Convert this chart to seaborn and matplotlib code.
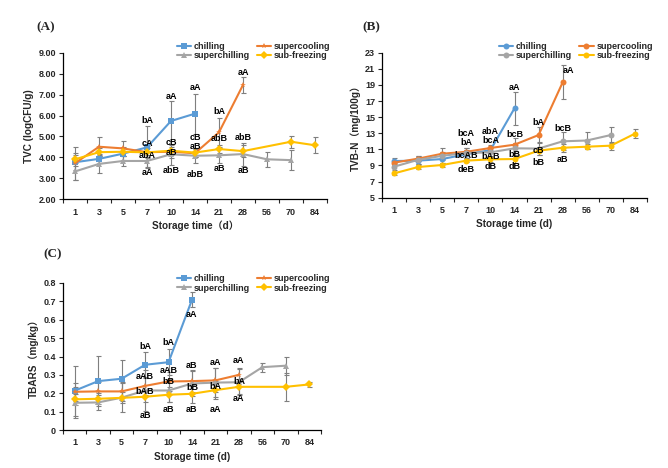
import numpy as np
import pandas as pd
import matplotlib
matplotlib.use("Agg")
import matplotlib.pyplot as plt
import seaborn as sns
from matplotlib.ticker import FixedLocator, FuncFormatter

sns.set_style("white")
plt.rcParams["font.family"] = ["Liberation Sans", "Noto Sans CJK SC"]
plt.rcParams["font.weight"] = "bold"
plt.rcParams["axes.labelweight"] = "bold"

nan = np.nan

DAYS = ["1", "3", "5", "7", "10", "14", "21", "28", "56", "70", "84"]
SERIES = ["chilling", "supercooling", "superchilling", "sub-freezing"]
COLORS = {"chilling": "#5B9BD5", "supercooling": "#ED7D31",
          "superchilling": "#A5A5A5", "sub-freezing": "#FFC000"}

# (A) TVC, logCFU/g
tvc_chilling = [3.77, 3.93, 4.18, 4.48, 5.74, 6.09]
tvc_chilling_err = [0.35, 0.2, 0.3, 1.0, 0.95, 0.95]
tvc_supercooling = [3.72, 4.51, 4.43, 4.25, 4.27, 4.2, 5.2, 7.46]
tvc_supercooling_err = [0.8, 0.45, 0.35, 0.3, 0.3, 0.2, 0.7, 0.38]
tvc_superchilling = [3.33, 3.69, 3.83, 3.83, 4.15, 4.08, 4.1, 4.16, 3.91, 3.87]
tvc_superchilling_err = [0.4, 0.45, 0.25, 0.3, 0.5, 0.35, 0.35, 0.55, 0.35, 0.48]
tvc_subfreezing = [3.91, 4.25, 4.27, 4.24, 4.32, 4.23, 4.4, 4.3, nan, 4.75, 4.58]
tvc_subfreezing_err = [0.3, 0.2, 0.2, 0.2, 0.2, 0.2, 0.2, 0.3, nan, 0.28, 0.38]
tvc_letters = [
    (3, 5.75, "bA"), (3, 4.67, "cA"), (3, 4.07, "abA"), (3, 3.27, "aA"),
    (4, 6.9, "aA"), (4, 4.7, "cB"), (4, 4.23, "aB"), (4, 3.37, "abB"),
    (5, 7.35, "aA"), (5, 4.96, "cB"), (5, 4.5, "aB"), (5, 3.2, "abB"),
    (6, 6.18, "bA"), (6, 4.9, "abB"), (6, 3.48, "aB"),
    (7, 8.05, "aA"), (7, 4.96, "abB"), (7, 3.37, "aB"),
]

# (B) TVB-N, mg/100g
tvbn_chilling = [9.55, 9.6, 9.8, 10.4, 10.9, 16.1]
tvbn_chilling_err = [0.35, 0.4, 0.5, 0.5, 0.4, 2.05]
tvbn_supercooling = [9.35, 9.85, 10.46, 10.7, 11.17, 11.58, 12.78, 19.32]
tvbn_supercooling_err = [0.3, 0.3, 0.7, 0.5, 0.4, 0.8, 1.0, 2.1]
tvbn_superchilling = [8.85, 9.7, 10.2, 10.55, 10.63, 11.13, 11.1, 12.0, 12.1, 12.78]
tvbn_superchilling_err = [0.4, 0.5, 0.5, 0.6, 0.5, 0.6, 0.8, 1.1, 1.0, 0.95]
tvbn_subfreezing = [8.02, 8.81, 9.06, 9.6, 9.76, 9.8, 10.84, 11.2, 11.33, 11.46, 12.95]
tvbn_subfreezing_err = [0.15, 0.2, 0.2, 0.2, 0.3, 0.5, 0.5, 0.5, 0.3, 0.5, 0.55]
tvbn_letters = [
    (3, 13.0, "bcA"), (3, 11.9, "bA"), (3, 10.26, "bcAB"), (3, 8.44, "deB"),
    (4, 13.2, "abA"), (4, 12.1, "bcA"), (4, 10.1, "bAB"), (4, 8.85, "dB"),
    (5, 18.7, "aA"), (5, 12.8, "bcB"), (5, 10.4, "bB"), (5, 8.85, "dB"),
    (6, 14.3, "bA"), (6, 10.9, "cB"), (6, 9.35, "bB"),
    (7.25, 20.75, "aA"), (7, 13.6, "bcB"), (7, 9.7, "aB"),
]

# (C) TBARS, mg/kg
tbars_chilling = [0.214, 0.266, 0.279, 0.355, 0.369, 0.709]
tbars_chilling_err = [0.137, 0.135, 0.1, 0.07, 0.07, 0.04]
tbars_supercooling = [0.208, 0.21, 0.21, 0.24, 0.264, 0.266, 0.27, 0.3]
tbars_supercooling_err = [0.05, 0.05, 0.05, 0.05, 0.05, 0.06, 0.065, 0.04]
tbars_superchilling = [0.148, 0.15, 0.176, 0.215, 0.215, 0.253, 0.258, 0.26, 0.342, 0.35]
tbars_superchilling_err = [0.085, 0.04, 0.08, 0.11, 0.06, 0.07, 0.08, 0.07, 0.025, 0.05]
tbars_subfreezing = [0.167, 0.17, 0.175, 0.181, 0.192, 0.197, 0.217, 0.235, nan, 0.235, 0.248]
tbars_subfreezing_err = [0.03, 0.03, 0.03, 0.03, 0.04, 0.05, 0.05, 0.04, nan, 0.075, 0.015]
tbars_letters = [
    (3, 0.453, "bA"), (3, 0.29, "aAB"), (3, 0.208, "bAB"), (3, 0.08, "aB"),
    (4, 0.474, "bA"), (4, 0.326, "aAB"), (4, 0.263, "bB"), (4, 0.112, "aB"),
    (5, 0.63, "aA"), (5, 0.35, "aB"), (5, 0.232, "bB"), (5, 0.112, "aB"),
    (6, 0.366, "aA"), (6, 0.235, "bA"), (6, 0.114, "aA"),
    (7, 0.376, "aA"), (7, 0.263, "bA"), (7, 0.172, "aA"),
]

FS = 6.5


def build_frame(values, errors):
    rows = []
    for name, vals, errs in zip(SERIES, values, errors):
        for i, (v, e) in enumerate(zip(vals, errs)):
            if not np.isnan(v):
                rows.append({"pos": i, "value": v, "err": e, "series": name})
    return pd.DataFrame(rows)


def draw_panel(fig, rect, values, errors, letters, markers, yticks, yfmt,
               ylabel, xlabel, tag, tag_xy, legend_xy):
    ax = fig.add_axes(rect)
    df = build_frame(values, errors)

    for name in SERIES:
        sub = df[df["series"] == name]
        ax.errorbar(sub["pos"], sub["value"], yerr=sub["err"], fmt="none",
                    ecolor="#7F7F7F", elinewidth=0.8, capsize=1.8,
                    capthick=0.8, zorder=1)

    sns.lineplot(data=df, x="pos", y="value", hue="series", style="series",
                 hue_order=SERIES, style_order=SERIES, palette=COLORS,
                 markers=markers, dashes=False, markersize=4.3,
                 markeredgewidth=0, linewidth=1.5, ax=ax, zorder=2)

    for x, y, t in letters:
        ax.text(x, y, t, ha="center", va="center", fontsize=FS,
                fontweight="bold", color="black", zorder=3)

    handles, labels = ax.get_legend_handles_labels()
    lookup = dict(zip(labels, handles))
    order = ["chilling", "superchilling", "supercooling", "sub-freezing"]
    ax.legend([lookup[k] for k in order], order, ncol=2, frameon=False,
              loc="upper left", bbox_to_anchor=legend_xy,
              handlelength=1.6, handletextpad=0.3, columnspacing=0.8,
              labelspacing=0.05, borderpad=0, borderaxespad=0,
              prop={"weight": "bold", "size": FS})

    ax.set_xlim(-0.5, 10.5)
    ax.set_ylim(yticks[0], yticks[-1])
    ax.set_xticks(range(len(DAYS)))
    ax.set_xticklabels(DAYS)
    ax.xaxis.set_minor_locator(FixedLocator(np.arange(-0.5, 11, 1)))
    ax.tick_params(axis="x", which="major", length=0, labelsize=FS, pad=6)
    ax.tick_params(axis="x", which="minor", length=3, width=0.8,
                   direction="out", bottom=True)
    ax.set_yticks(yticks)
    ax.yaxis.set_major_formatter(FuncFormatter(yfmt))
    ax.tick_params(axis="y", length=3, width=0.8, direction="out", left=True,
                   labelsize=FS, pad=2)
    for lab in ax.get_xticklabels() + ax.get_yticklabels():
        lab.set_fontweight("bold")

    for side in ["top", "right"]:
        ax.spines[side].set_visible(False)
    for side in ["left", "bottom"]:
        ax.spines[side].set_color("black")
        ax.spines[side].set_linewidth(0.9)

    ax.set_xlabel(xlabel, fontsize=FS + 0.7, fontweight="bold", labelpad=3)
    ax.set_ylabel(ylabel, fontsize=FS + 0.7, fontweight="bold", labelpad=3)

    fig.text(tag_xy[0], tag_xy[1], tag, ha="center", va="center",
             fontsize=9.5, fontweight="bold", family="Liberation Serif")
    return ax


def main():
    fig = plt.figure(figsize=(6.68, 4.68), dpi=100)
    W, H = 668, 468

    def rect(l, r, t, b):
        return [l / W, 1 - b / H, (r - l) / W, (b - t) / H]

    markers_a = {"chilling": "s", "supercooling": "*",
                 "superchilling": "^", "sub-freezing": "D"}
    markers_b = {k: "o" for k in SERIES}

    draw_panel(fig, rect(63, 327, 52.7, 199.3),
               [tvc_chilling, tvc_supercooling, tvc_superchilling, tvc_subfreezing],
               [tvc_chilling_err, tvc_supercooling_err, tvc_superchilling_err,
                tvc_subfreezing_err],
               tvc_letters, markers_a, np.arange(2, 9.01, 1),
               lambda v, p: f"{v:.2f}", "TVC (logCFU/g)", "Storage time（d）",
               "(A)", (46 / W, 1 - 27 / H), (0.43, 1.075))

    draw_panel(fig, rect(382, 647, 52.7, 197.7),
               [tvbn_chilling, tvbn_supercooling, tvbn_superchilling, tvbn_subfreezing],
               [tvbn_chilling_err, tvbn_supercooling_err, tvbn_superchilling_err,
                tvbn_subfreezing_err],
               tvbn_letters, markers_b, np.arange(5, 23.1, 2),
               lambda v, p: f"{v:g}", "TVB-N（mg/100g）", "Storage time (d)",
               "(B)", (371 / W, 1 - 27 / H), (0.44, 1.075))

    draw_panel(fig, rect(63, 321, 283, 430),
               [tbars_chilling, tbars_supercooling, tbars_superchilling,
                tbars_subfreezing],
               [tbars_chilling_err, tbars_supercooling_err, tbars_superchilling_err,
                tbars_subfreezing_err],
               tbars_letters, markers_a, np.round(np.arange(0, 0.81, 0.1), 1),
               lambda v, p: f"{v:g}", "TBARS（mg/kg）", "Storage time (d)",
               "(C)", (53 / W, 1 - 254 / H), (0.44, 1.06))

    fig.savefig("out.png", dpi=100)
    plt.close(fig)


if __name__ == "__main__":
    main()
